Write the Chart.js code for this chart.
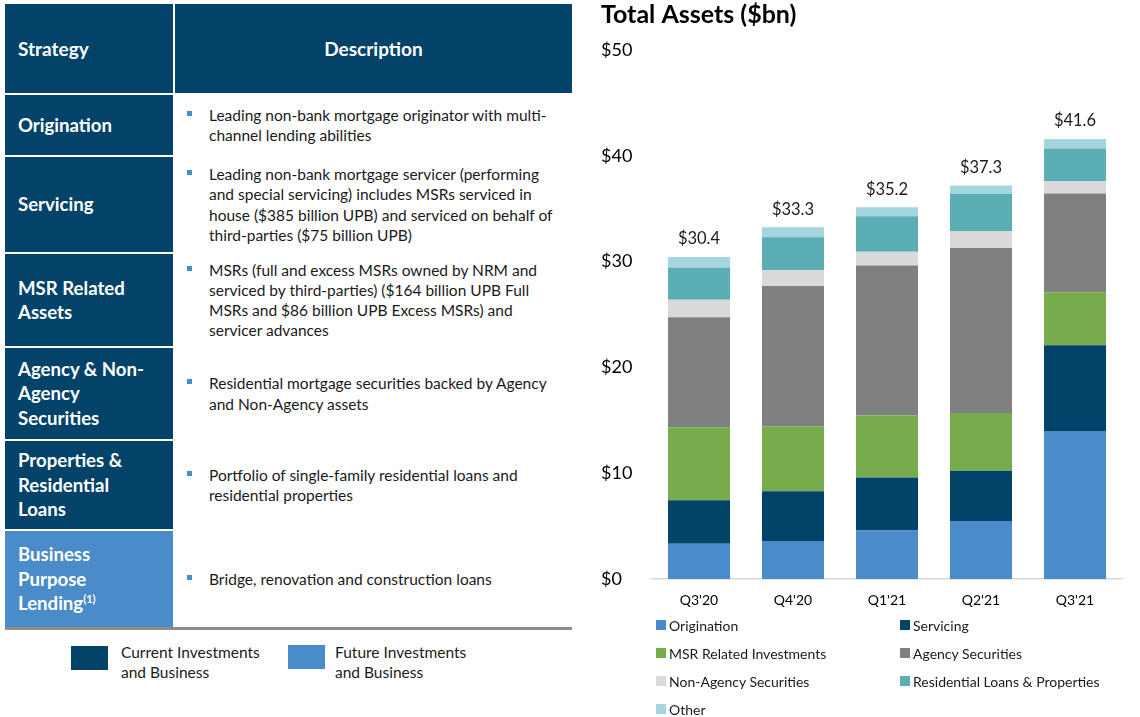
<!DOCTYPE html>
<html>
<head>
<meta charset="utf-8">
<script src="https://cdn.jsdelivr.net/npm/chart.js@4"></script>
<style>
  html, body { margin: 0; padding: 0; background: #fff; }
  body { width: 1140px; height: 717px; overflow: hidden; position: relative; font-family: Lato, "Open Sans", sans-serif; color: #1a1a1a; }
  .cell { position: absolute; box-sizing: border-box; display: flex; align-items: center; }
  .dark { background: #03436a; }
  .light { background: #4a8bc9; }
  .lbl { left: 5px; width: 168px; padding-left: 13px; color: #fff; font-weight: 700; font-size: 18.6px; line-height: 24.5px; }
  .desc { left: 175px; width: 397px; padding-left: 34px; padding-right: 12px; font-size: 15.5px; line-height: 20.2px; }
  .desc .b { position: relative; }
  .desc .b::before { content: ""; position: absolute; left: -22px; top: 6px; width: 5px; height: 5px; background: #4a8bc9; }
  .hdr { color: #fff; font-weight: 700; font-size: 19px; }
  .rule { position: absolute; left: 5px; top: 627px; width: 567px; height: 3px; background: #8c8c8c; }
  .key { position: absolute; width: 37px; height: 24px; }
  .keytxt { position: absolute; font-size: 15.5px; line-height: 20px; }
  #chartBox { position: absolute; left: 590px; top: 0; width: 550px; height: 618px; }
  #legend { position: absolute; left: 656px; top: 615px; width: 484px; display: grid; grid-template-columns: 244px 240px; grid-auto-rows: 28px; font-size: 14px; color: #1a1a1a; }
  #legend .it { display: flex; align-items: center; height: 20px; }
  #legend .sw { width: 10px; height: 10px; margin-right: 3px; flex: none; }
</style>
</head>
<body>

<!-- strategy table -->
<div class="cell dark hdr" style="left:5px;top:4px;width:168px;height:89px;padding-left:13px;">Strategy</div>
<div class="cell dark hdr" style="left:175px;top:4px;width:397px;height:89px;justify-content:center;">Description</div>

<div class="cell dark lbl" style="top:95px;height:60px;"><div>Origination</div></div>
<div class="cell desc" style="top:95px;height:60px;"><div class="b">Leading non-bank mortgage originator with multi-channel lending abilities</div></div>

<div class="cell dark lbl" style="top:157px;height:95px;"><div>Servicing</div></div>
<div class="cell desc" style="top:157px;height:95px;"><div class="b">Leading non-bank mortgage servicer (performing and special servicing) includes MSRs serviced in house ($385 billion UPB) and serviced on behalf of third-parties ($75 billion UPB)</div></div>

<div class="cell dark lbl" style="top:254px;height:92px;"><div>MSR Related<br>Assets</div></div>
<div class="cell desc" style="top:254px;height:92px;"><div class="b">MSRs (full and excess MSRs owned by NRM and serviced by third-parties) ($164 billion UPB Full MSRs and $86 billion UPB Excess MSRs) and servicer advances</div></div>

<div class="cell dark lbl" style="top:348px;height:91px;"><div>Agency &amp; Non-<br>Agency<br>Securities</div></div>
<div class="cell desc" style="top:348px;height:91px;"><div class="b">Residential mortgage securities backed by Agency and Non-Agency assets</div></div>

<div class="cell dark lbl" style="top:441px;height:88px;"><div>Properties &amp;<br>Residential<br>Loans</div></div>
<div class="cell desc" style="top:441px;height:88px;"><div class="b">Portfolio of single-family residential loans and residential properties</div></div>

<div class="cell light lbl" style="top:531px;height:96px;"><div>Business<br>Purpose<br>Lending<sup style="font-size:11px;line-height:0;vertical-align:7px;">(1)</sup></div></div>
<div class="cell desc" style="top:531px;height:96px;"><div class="b">Bridge, renovation and construction loans</div></div>

<div class="rule"></div>

<div class="key dark" style="left:71px;top:646px;"></div>
<div class="keytxt" style="left:121px;top:642px;">Current Investments<br>and Business</div>
<div class="key light" style="left:288px;top:645px;"></div>
<div class="keytxt" style="left:335px;top:642px;">Future Investments<br>and Business</div>

<div id="chartBox"><canvas id="assets"></canvas></div>
<div id="legend"></div>

<script>
// quarters on the x axis
var quarters = ["Q3'20", "Q4'20", "Q1'21", "Q2'21", "Q3'21"];

// $bn per segment
var origination  = [3.35, 3.6, 4.6, 5.5, 14.0];
var servicing    = [4.1, 4.7, 5.0, 4.75, 8.1];
var msrRelated   = [6.9, 6.15, 5.9, 5.45, 5.0];
var agency       = [10.4, 13.25, 14.15, 15.6, 9.35];
var nonAgency    = [1.65, 1.5, 1.3, 1.6, 1.15];
var residential  = [3.05, 3.1, 3.35, 3.5, 3.1];
var other        = [1.0, 0.95, 0.85, 0.8, 0.9];

// labels printed above each bar
var totals = [30.4, 33.3, 35.2, 37.3, 41.6];

var yTicks = [0, 10, 20, 30, 40, 50];

var seriesNames = ['Origination', 'Servicing', 'MSR Related Investments', 'Agency Securities',
  'Non-Agency Securities', 'Residential Loans & Properties', 'Other'];
var seriesData = [origination, servicing, msrRelated, agency, nonAgency, residential, other];
var seriesColors = ['#4a8bc9', '#03436a', '#77ac4c', '#808080', '#d9d9d9', '#5aaeb4', '#a5d6e0'];

var fontFamily = 'Lato, "Open Sans", sans-serif';

// ── totals above the stacks ──────────────────────
var totalLabels = {
  id: 'totalLabels',
  afterDatasetsDraw: function (chart) {
    var ctx = chart.ctx;
    var topMeta = chart.getDatasetMeta(chart.data.datasets.length - 1);
    ctx.save();
    ctx.font = '16.5px ' + fontFamily;
    ctx.fillStyle = '#1a1a1a';
    ctx.textAlign = 'center';
    ctx.textBaseline = 'middle';
    topMeta.data.forEach(function (bar, i) {
      ctx.fillText('$' + totals[i].toFixed(1), bar.x, bar.y - 18);
    });
    ctx.restore();
  }
};

var datasets = seriesNames.map(function (name, i) {
  return {
    label: name,
    data: seriesData[i],
    backgroundColor: seriesColors[i],
    borderWidth: 0,
    barPercentage: 0.66,
    categoryPercentage: 1
  };
});

var chart = new Chart(document.getElementById('assets'), {
  type: 'bar',
  data: { labels: quarters, datasets: datasets },
  plugins: [totalLabels],
  options: {
    responsive: true,
    maintainAspectRatio: false,
    animation: false,
    layout: { padding: { left: 11, right: 18, top: 0, bottom: 4 } },
    plugins: {
      legend: { display: false },
      tooltip: { enabled: false },
      title: {
        display: true,
        text: 'Total Assets ($bn)',
        align: 'start',
        color: '#000',
        font: { family: fontFamily, size: 25, weight: 'bold' },
        padding: { top: 0, bottom: 20 }
      }
    },
    scales: {
      x: {
        stacked: true,
        grid: { display: false },
        border: { color: '#d9d9d9', width: 1.5 },
        ticks: { color: '#000', padding: 5, font: { family: fontFamily, size: 14 } }
      },
      y: {
        stacked: true,
        min: yTicks[0],
        max: yTicks[yTicks.length - 1],
        afterBuildTicks: function (axis) {
          axis.ticks = yTicks.map(function (v) { return { value: v }; });
        },
        afterFit: function (axis) { axis.width = 51; },
        grid: { display: false },
        border: { display: false },
        ticks: {
          crossAlign: 'far',
          color: '#000',
          font: { family: fontFamily, size: 18 },
          callback: function (v) { return '$' + v; }
        }
      }
    }
  }
});

// two-column legend built from the datasets
var legendEl = document.getElementById('legend');
chart.data.datasets.forEach(function (ds) {
  var it = document.createElement('div');
  it.className = 'it';
  var sw = document.createElement('span');
  sw.className = 'sw';
  sw.style.background = ds.backgroundColor;
  var tx = document.createElement('span');
  tx.textContent = ds.label;
  it.appendChild(sw);
  it.appendChild(tx);
  legendEl.appendChild(it);
});
</script>
</body>
</html>
